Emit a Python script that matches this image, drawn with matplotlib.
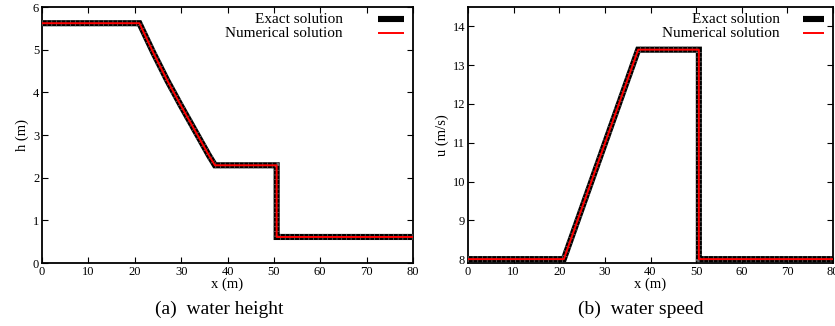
import numpy as np
import matplotlib.pyplot as plt
from matplotlib.lines import Line2D

plt.rcParams['font.family'] = ['Liberation Serif', 'DejaVu Serif']

# dam break: water height and water speed
x_h = [0, 21.0, 24.0, 27.0, 30.0, 33.0, 36.0, 37.3, 50.6, 50.6, 80]
h = [5.62, 5.62, 4.93, 4.28, 3.68, 3.10, 2.52, 2.29, 2.29, 0.61, 0.61]

x_u = [0, 21.0, 37.3, 50.6, 50.6, 80]
u = [8.0, 8.0, 13.4, 13.4, 8.0, 8.0]

x_ticks = [0, 10, 20, 30, 40, 50, 60, 70, 80]
h_ticks = [0, 1, 2, 3, 4, 5, 6]
u_ticks = [8, 9, 10, 11, 12, 13, 14]

W, H = 835, 326
fig = plt.figure(figsize=(W / 100, H / 100), dpi=100)


def px_axes(l, r, t, b):
    return fig.add_axes([l / W, 1 - b / H, (r - l) / W, (b - t) / H])


def draw_panel(ax, x, y, ylim, yticks, ylabel, leg_text_x, leg_line):
    ax.plot(x, y, color='black', lw=4.4, solid_joinstyle='miter', zorder=2)
    # faint grey ticks on the numerical curve
    ax.plot(x, y, color='#6a6a6a', lw=4.4, ls=(0, (0.12, 0.65)), zorder=3)
    ax.plot(x, y, color='#ff0000', lw=1.4, zorder=4)
    ax.set_xlim(0, 80)
    ax.set_ylim(*ylim)
    ax.set_xticks(x_ticks)
    ax.set_yticks(yticks)
    ax.tick_params(direction='in', top=True, right=True, length=4, width=0.8,
                   labelsize=9, pad=2)
    for s in ax.spines.values():
        s.set_linewidth(1.3)
    ax.set_xlabel('x (m)', fontsize=10.5, labelpad=0)
    ax.set_ylabel(ylabel, fontsize=10.5, labelpad=3)
    # gnuplot-like key: text right aligned, sample on the right
    for i, (lab, col, lw) in enumerate([('Exact solution', 'black', 4.4),
                                        ('Numerical solution', '#ff0000', 1.4)]):
        yy = 0.953 - i * 0.055
        ax.text(leg_text_x, yy, lab, transform=ax.transAxes, ha='right',
                va='center', fontsize=11)
        ax.add_line(Line2D(leg_line, [yy, yy], transform=ax.transAxes,
                           color=col, lw=lw, solid_capstyle='butt'))


ax1 = px_axes(42, 413, 7, 263)
draw_panel(ax1, x_h, h, (0, 6), h_ticks, 'h (m)', 0.811, [0.906, 0.976])

ax2 = px_axes(468, 833, 7, 263)
draw_panel(ax2, x_u, u, (7.9, 14.5), u_ticks, 'u (m/s)', 0.855, [0.918, 0.975])

fig.text(219 / W, 1 - 309 / H, '(a)  water height', ha='center', va='center',
         fontsize=14)
fig.text(641 / W, 1 - 309 / H, '(b)  water speed', ha='center', va='center',
         fontsize=14)

fig.savefig('out.png', dpi=100)
